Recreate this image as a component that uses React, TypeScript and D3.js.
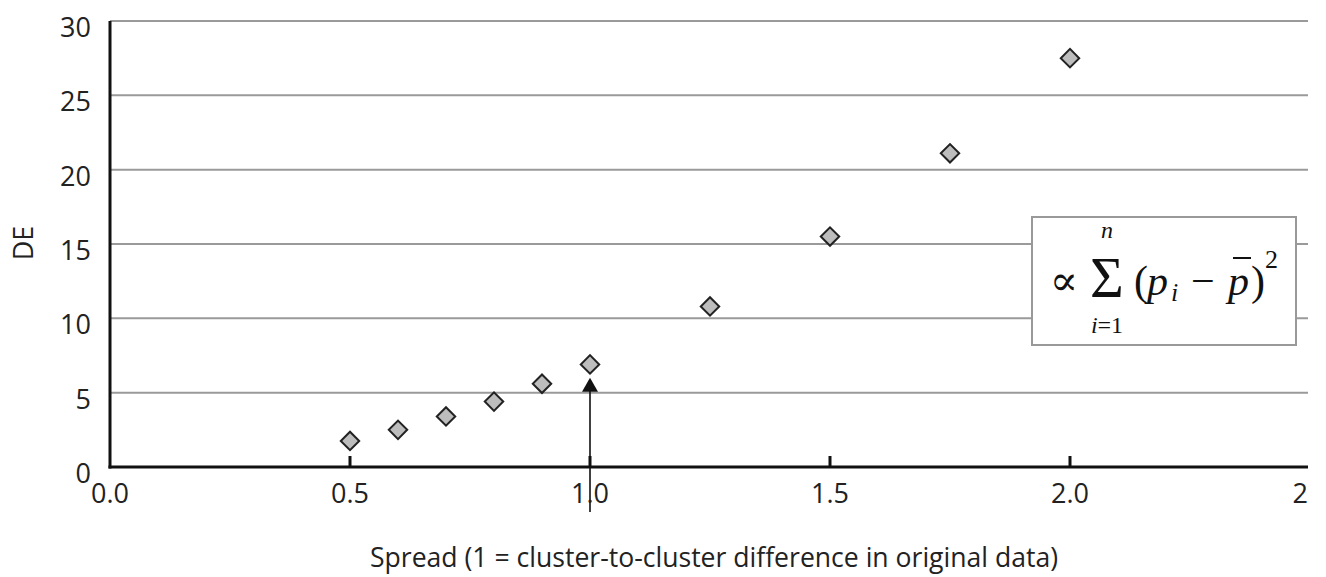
import React from "react";
import * as d3 from "d3";

const spreadValues = [0.5, 0.6, 0.7, 0.8, 0.9, 1.0, 1.25, 1.5, 1.75, 2.0];
const deValues = [1.75, 2.5, 3.4, 4.4, 5.6, 6.9, 10.8, 15.5, 21.1, 27.5];
const xTicks = [0, 0.5, 1.0, 1.5, 2.0, 2.5];
const xTickLabels = ["0.0", "0.5", "1.0", "1.5", "2.0", "2"];
const yTicks = [0, 5, 10, 15, 20, 25, 30];
const arrowX = 1.0;
const arrowTipValue = 6.0;

const W = 1326;
const H = 577;
const left = 110;
const right = 1310;
const top = 21;
const bottom = 467;
const clipRight = 1308;

const FONT = "'Open Sans', 'DejaVu Sans', sans-serif";
const SERIF = "'Liberation Serif', 'DejaVu Serif', serif";
const TXT = "#222";

export default function App() {
  const x = d3.scaleLinear().domain([0, 2.5]).range([left, right]);
  const y = d3.scaleLinear().domain([0, 30]).range([bottom, top]);
  const diamond = d3.symbol().type(d3.symbolSquare).size(170)();

  const ax = x(arrowX);
  const tipY = y(arrowTipValue);
  const lastIdx = xTicks.length - 1;

  return (
    <svg
      width={W}
      height={H}
      style={{ position: "absolute", left: 0, top: 0, background: "#fff" }}
    >
      <defs>
        <clipPath id="crop">
          <rect x={0} y={0} width={clipRight} height={H} />
        </clipPath>
      </defs>
      <rect x={0} y={0} width={W} height={H} fill="#fff" />
      <g clipPath="url(#crop)">
        {/* gridlines */}
        {yTicks.filter((t) => t > 0).map((t) => (
          <line
            key={"g" + t}
            x1={left}
            x2={right}
            y1={y(t)}
            y2={y(t)}
            stroke="#9a9a9a"
            strokeWidth={2}
          />
        ))}
        {/* x ticks */}
        {xTicks.filter((t) => t > 0).map((t) => (
          <line
            key={"xt" + t}
            x1={x(t)}
            x2={x(t)}
            y1={bottom}
            y2={bottom - 11}
            stroke="#111"
            strokeWidth={3}
          />
        ))}
        {/* axes */}
        <line x1={left} x2={left} y1={top} y2={bottom + 1.5} stroke="#111" strokeWidth={3} />
        <line x1={left - 1.5} x2={right} y1={bottom} y2={bottom} stroke="#111" strokeWidth={3} />

        {/* arrow */}
        <line x1={ax} x2={ax} y1={512} y2={tipY + 8} stroke="#111" strokeWidth={1.6} />
        <path
          d={`M${ax},${tipY} L${ax - 8},${tipY + 14} L${ax + 8},${tipY + 14} Z`}
          fill="#111"
        />

        {/* points */}
        {spreadValues.map((s, i) => (
          <path
            key={"p" + i}
            d={diamond}
            transform={`translate(${x(s)},${y(deValues[i])}) rotate(45)`}
            fill="#bdbdbd"
            stroke="#222"
            strokeWidth={2}
          />
        ))}

        {/* formula box */}
        <rect x={1032} y={217} width={264} height={128} fill="#fff" stroke="#999" strokeWidth={2} />
        <g fill="#111" fontFamily={SERIF}>
          <text x={1064} y={295} fontSize={42} textAnchor="middle">∝</text>
          <text x={1107} y={297} fontSize={58} textAnchor="middle">Σ</text>
          <text x={1107} y={238} fontSize={24} textAnchor="middle" fontStyle="italic">n</text>
          <text x={1107} y={333} fontSize={24} textAnchor="middle">
            <tspan fontStyle="italic">i</tspan>=1
          </text>
          <text x={1134} y={295} fontSize={42}>(</text>
          <text x={1147} y={295} fontSize={42} fontStyle="italic">p</text>
          <text x={1171} y={301} fontSize={26} fontStyle="italic">i</text>
          <text x={1191} y={295} fontSize={42}>−</text>
          <text x={1228} y={295} fontSize={42} fontStyle="italic">p</text>
          <line x1={1233} x2={1251} y1={258} y2={258} stroke="#111" strokeWidth={2} />
          <text x={1251} y={295} fontSize={42}>)</text>
          <text x={1265} y={268} fontSize={26}>2</text>
        </g>
      </g>

      {/* y tick labels */}
      {yTicks.map((t) => (
        <text
          key={"yl" + t}
          x={91}
          y={y(t) + 16}
          textAnchor="end"
          fontFamily={FONT}
          fontSize={27}
          fill={TXT}
        >
          {t}
        </text>
      ))}
      {/* x tick labels */}
      {xTicks.map((t, i) => (
        <text
          key={"xl" + t}
          x={i === lastIdx ? clipRight : x(t)}
          y={503}
          textAnchor={i === lastIdx ? "end" : "middle"}
          fontFamily={FONT}
          fontSize={27}
          fill={TXT}
        >
          {xTickLabels[i]}
        </text>
      ))}

      {/* axis titles */}
      <text
        x={714}
        y={567}
        textAnchor="middle"
        fontFamily={FONT}
        fontSize={27}
        fill={TXT}
        textLength={688}
        lengthAdjust="spacingAndGlyphs"
      >
        Spread (1 = cluster-to-cluster difference in original data)
      </text>
      <text
        transform="translate(33,243) rotate(-90)"
        textAnchor="middle"
        fontFamily={FONT}
        fontSize={27}
        fill={TXT}
      >
        DE
      </text>
    </svg>
  );
}
